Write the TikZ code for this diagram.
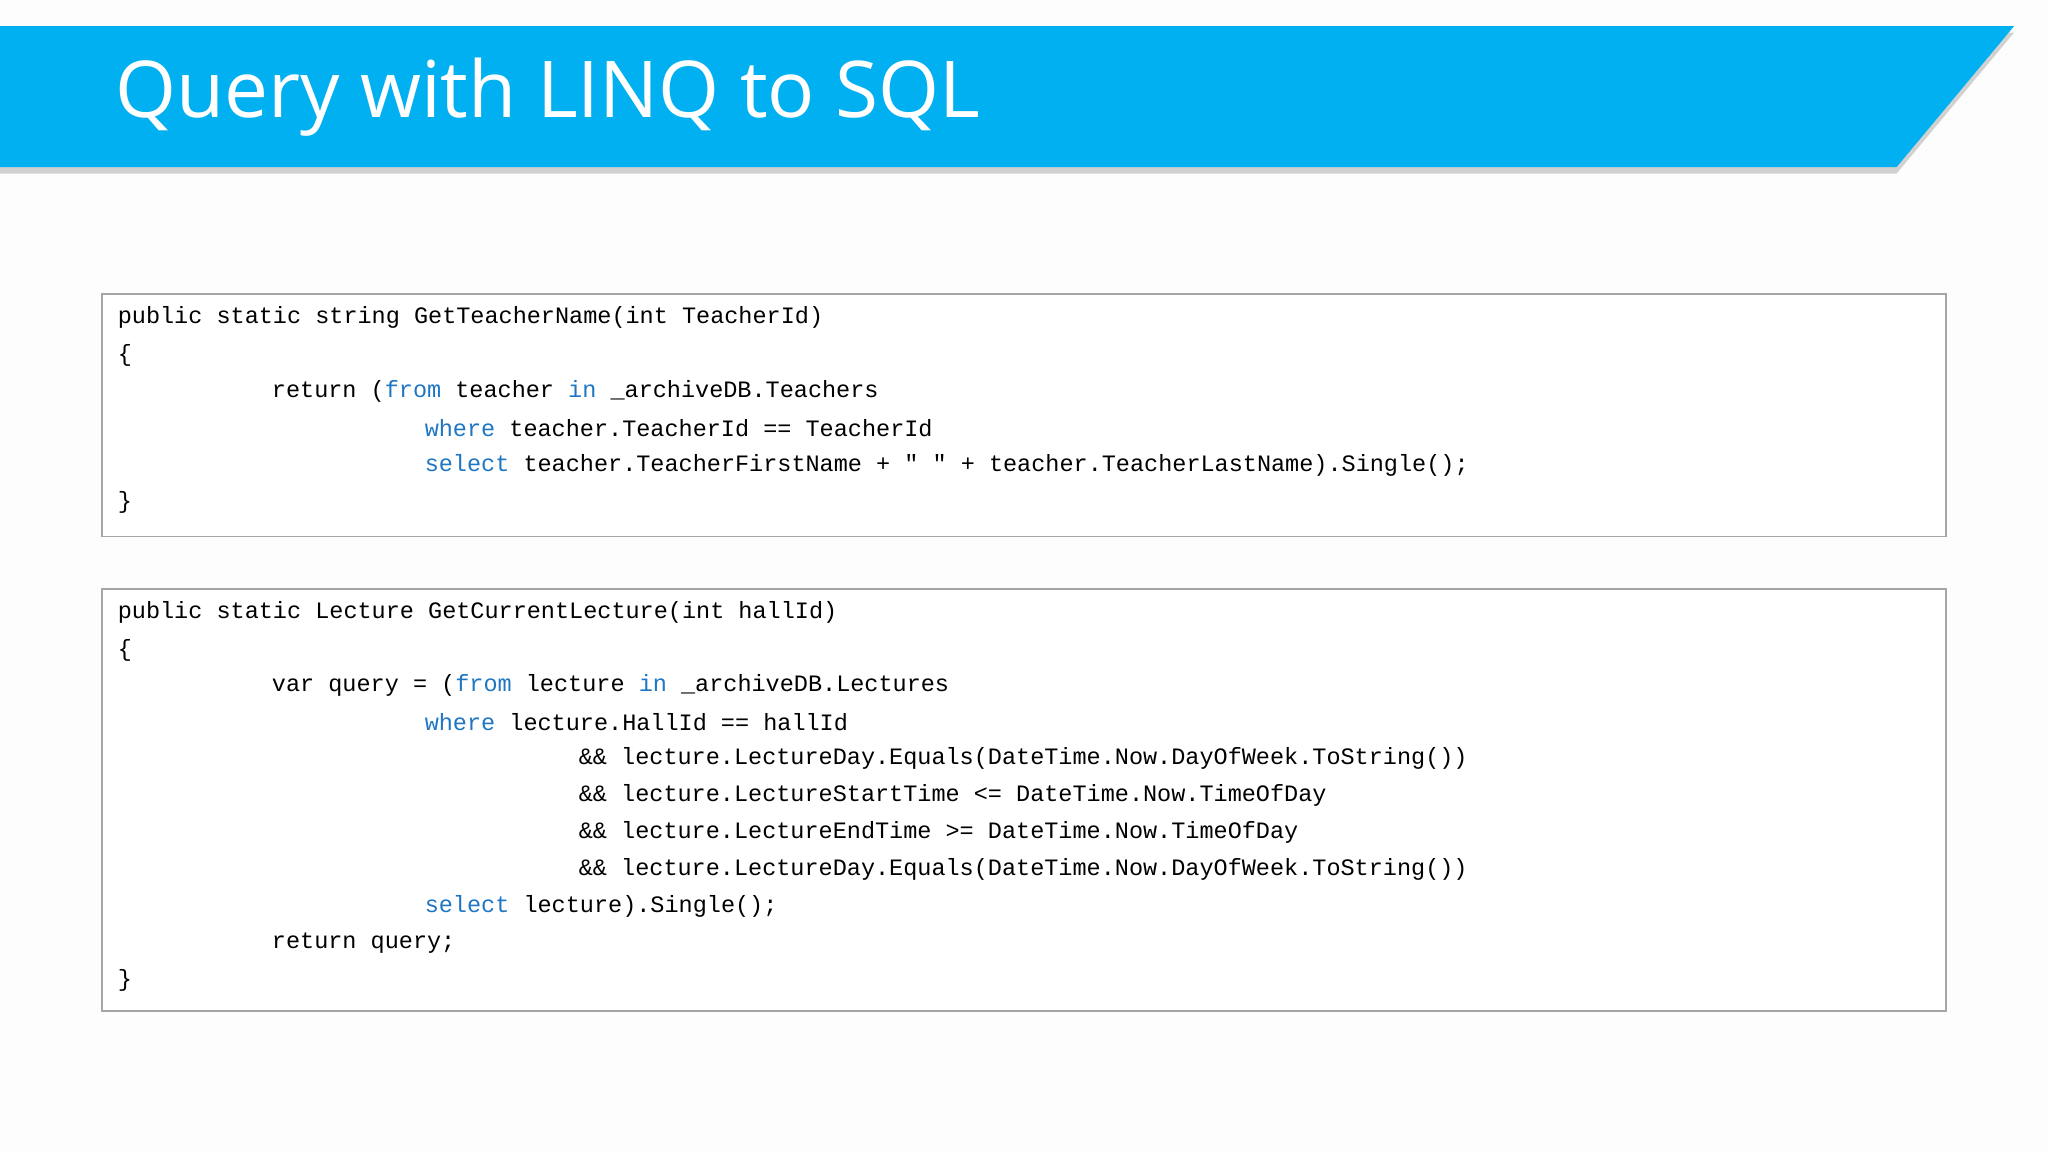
\documentclass[tikz,border=0pt]{standalone}
\usepackage{fontspec}
\setmainfont{Open Sans}
\setmonofont{Liberation Mono}
\usetikzlibrary{shadows}
\definecolor{banner}{HTML}{00B0F0}
\definecolor{kw}{HTML}{1F77C4}
\definecolor{bord}{HTML}{A6A6A6}
\newcommand{\kwd}[1]{\textcolor{kw}{#1}}
\tikzset{code/.style={anchor=west,inner sep=0pt,font=\ttfamily\fontsize{18}{20}\selectfont,text=black},
 codebox/.style={draw=bord,line width=1pt,fill=white}}
\begin{document}
\begin{tikzpicture}[x=1pt,y=-1pt]
\useasboundingbox[fill={rgb,255:red,253;green,253;blue,253}] (0,0) rectangle (1568,882);
\fill[banner,drop shadow={shadow xshift=0pt,shadow yshift=-5pt,opacity=0.35}] (0,20) -- (1542,20) -- (1452,128) -- (0,128) -- cycle;
\node[anchor=west,inner sep=0pt,text=white,font=\fontsize{60}{64}\selectfont] (title) at (88,74) {Query with LINQ to SQL};
\draw[codebox] (78,225) rectangle (1490,411);
\draw[codebox] (78,451) rectangle (1490,774);
\node[code] (a1) at (90,243) {public static string GetTeacherName(int TeacherId)};
\node[code] (a2) at (90,272) {\{};
\node[code] (a3) at (208,300) {return (\kwd{from} teacher \kwd{in} \_archiveDB.Teachers};
\node[code] (a4) at (325,328) {\kwd{where} teacher.TeacherId == TeacherId};
\node[code] (a5) at (325,356) {\kwd{select} teacher.TeacherFirstName + " " + teacher.TeacherLastName).Single();};
\node[code] (a6) at (90,385) {\}};
\node[code] (b1) at (90,469) {public static Lecture GetCurrentLecture(int hallId)};
\node[code] (b2) at (90,498) {\{};
\node[code] (b3) at (208,525) {var query = (\kwd{from} lecture \kwd{in} \_archiveDB.Lectures};
\node[code] (b4) at (325,553) {\kwd{where} lecture.HallId == hallId};
\node[code] (b5) at (443,581) {\&\& lecture.LectureDay.Equals(DateTime.Now.DayOfWeek.ToString())};
\node[code] (b6) at (443,609) {\&\& lecture.LectureStartTime <= DateTime.Now.TimeOfDay};
\node[code] (b7) at (443,637) {\&\& lecture.LectureEndTime >= DateTime.Now.TimeOfDay};
\node[code] (b8) at (443,666) {\&\& lecture.LectureDay.Equals(DateTime.Now.DayOfWeek.ToString())};
\node[code] (b9) at (325,694) {\kwd{select} lecture).Single();};
\node[code] (b10) at (208,722) {return query;};
\node[code] (b11) at (90,751) {\}};
\end{tikzpicture}
\end{document}
